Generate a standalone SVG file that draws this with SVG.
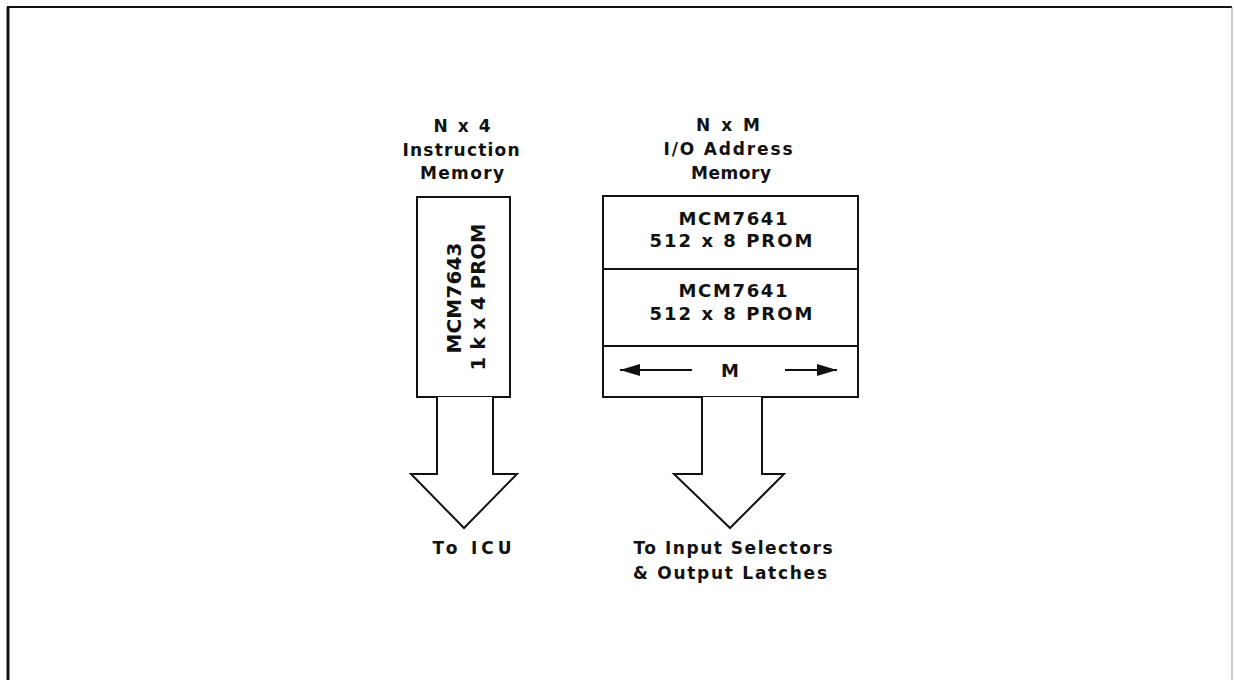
<svg xmlns="http://www.w3.org/2000/svg" width="1234" height="680" viewBox="0 0 1234 680">
<defs>
<style>
.t{font-family:"DejaVu Sans","Liberation Sans",Arial,sans-serif;font-weight:bold;font-size:17px;fill:#111;text-anchor:middle}
.b{fill:#fff;stroke:#111;stroke-width:2}
.l{stroke:#111;stroke-width:2;fill:none}
.big{fill:#fff;stroke:#111;stroke-width:2;stroke-linejoin:miter}
</style>
<marker id="ah" viewBox="0 0 20 12" refX="20" refY="6" markerWidth="20" markerHeight="12" markerUnits="userSpaceOnUse" orient="auto">
<path d="M0,0 L20,6 L0,12 Z" fill="#111"/>
</marker>
</defs>
<rect width="1234" height="680" fill="#fff"/>
<g id="frame">
<path d="M8,680 V7 H1232" fill="none" stroke="#111" stroke-width="2"/>
<path d="M8,680 V7" fill="none" stroke="#111" stroke-width="3"/>
<path d="M1232,7 V680" fill="none" stroke="#999" stroke-width="1"/>
</g>
<g id="instruction-memory">
<text class="t" x="462" y="132" textLength="57" lengthAdjust="spacing">N x 4</text>
<text class="t" x="461" y="156" textLength="117" lengthAdjust="spacing">Instruction</text>
<text class="t" x="462" y="179" textLength="84" lengthAdjust="spacing">Memory</text>
<rect class="b" x="417" y="197" width="93" height="200"/>
<text class="t" style="font-size:20px" transform="translate(461,298) rotate(-90)" textLength="111" lengthAdjust="spacing">MCM7643</text>
<text class="t" style="font-size:19.5px" transform="translate(485,297) rotate(-90)" textLength="147" lengthAdjust="spacing">1 k x 4 PROM</text>
</g>
<g id="io-address-memory">
<text class="t" x="728" y="131" textLength="64" lengthAdjust="spacing">N x M</text>
<text class="t" x="728" y="155" textLength="129" lengthAdjust="spacing">I/O Address</text>
<text class="t" x="731" y="179" textLength="80" lengthAdjust="spacing">Memory</text>
<rect class="b" x="603" y="196" width="255" height="201"/>
<line class="l" x1="603" y1="269" x2="858" y2="269"/>
<line class="l" x1="603" y1="346" x2="858" y2="346"/>
<text class="t" style="font-size:18px" x="733" y="225" textLength="109" lengthAdjust="spacing">MCM7641</text>
<text class="t" style="font-size:18px" x="731" y="247" textLength="163" lengthAdjust="spacing">512 x 8 PROM</text>
<text class="t" style="font-size:18px" x="733" y="297" textLength="109" lengthAdjust="spacing">MCM7641</text>
<text class="t" style="font-size:18px" x="731" y="320" textLength="163" lengthAdjust="spacing">512 x 8 PROM</text>
<text class="t" style="font-size:18px" x="730" y="377">M</text>
</g>
<g id="connectors">
<line class="l" x1="692" y1="370" x2="620" y2="370" marker-end="url(#ah)"/>
<line class="l" x1="785" y1="370" x2="837" y2="370" marker-end="url(#ah)"/>
<path class="big" d="M437,397 V474 H411 L464,528 L517,474 H493 V397"/>
<path class="big" d="M702,397 V474 H674 L730,528 L784,474 H762 V397"/>
</g>
<g id="labels">
<text class="t" x="472" y="554" textLength="79" lengthAdjust="spacing">To ICU</text>
<text class="t" x="733" y="554" textLength="199" lengthAdjust="spacing">To Input Selectors</text>
<text class="t" x="730" y="579" textLength="194" lengthAdjust="spacing">&amp; Output Latches</text>
</g>
</svg>
